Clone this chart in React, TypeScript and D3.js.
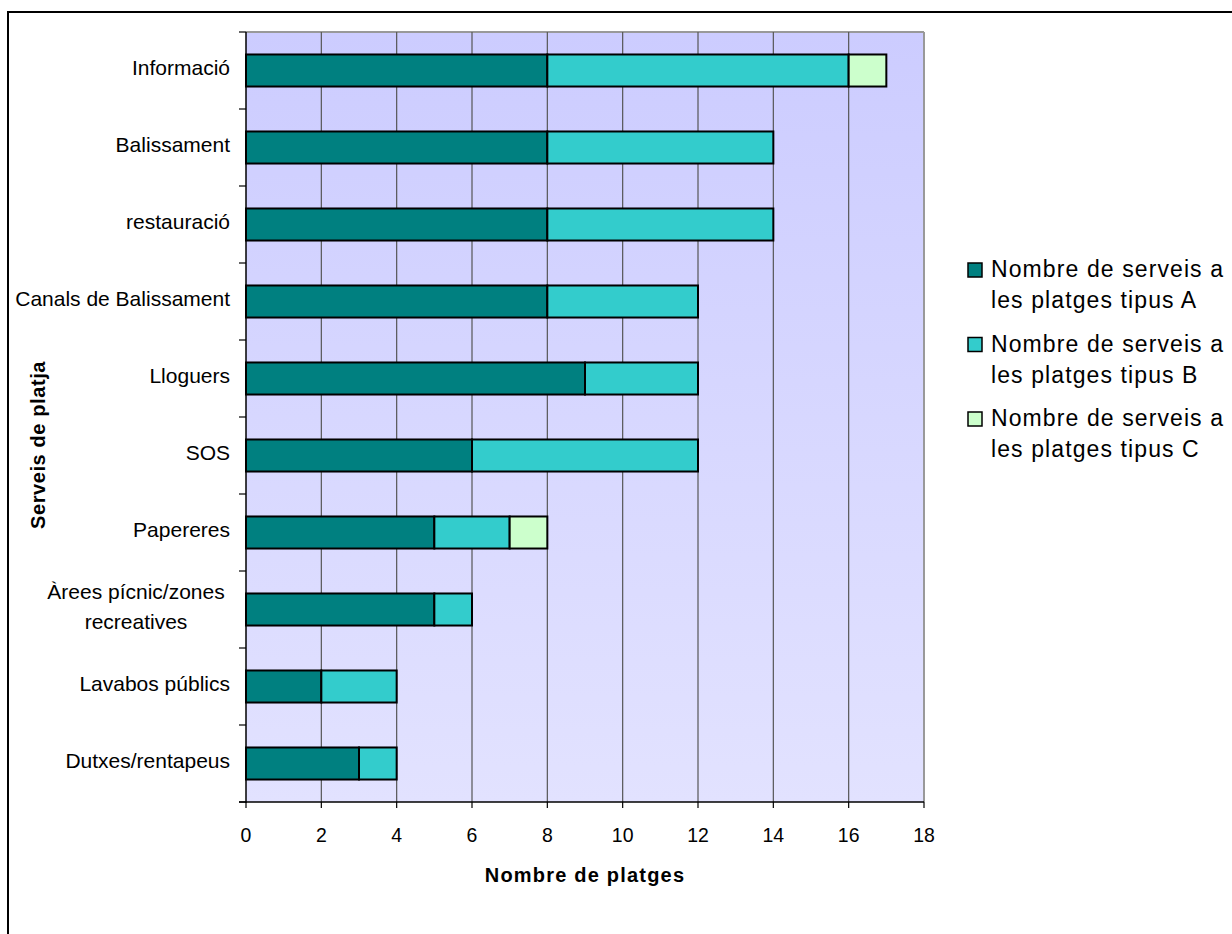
import React from "react";
import * as d3 from "d3";

const categories = [
  "Informació",
  "Balissament",
  "restauració",
  "Canals de Balissament",
  "Lloguers",
  "SOS",
  "Papereres",
  "Àrees pícnic/zones recreatives",
  "Lavabos públics",
  "Dutxes/rentapeus",
];
const categoryLines: string[][] = [
  ["Informació"],
  ["Balissament"],
  ["restauració"],
  ["Canals de Balissament"],
  ["Lloguers"],
  ["SOS"],
  ["Papereres"],
  ["Àrees pícnic/zones", "recreatives"],
  ["Lavabos públics"],
  ["Dutxes/rentapeus"],
];
const seriesA = [8, 8, 8, 8, 9, 6, 5, 5, 2, 3];
const seriesB = [8, 6, 6, 4, 3, 6, 2, 1, 2, 1];
const seriesC = [1, 0, 0, 0, 0, 0, 1, 0, 0, 0];
const seriesNames = [
  ["Nombre de serveis a", "les platges tipus A"],
  ["Nombre de serveis a", "les platges tipus B"],
  ["Nombre de serveis a", "les platges tipus C"],
];
const seriesColors = ["#008080", "#33CCCC", "#CCFFCC"];
const xTicks = [0, 2, 4, 6, 8, 10, 12, 14, 16, 18];
const xTitle = "Nombre de platges";
const yTitle = "Serveis de platja";

const W = 1232;
const H = 934;
const left = 246;
const right = 924;
const top = 32;
const bottom = 802;
const font = "'Liberation Sans', Arial, sans-serif";

export default function App() {
  const x = d3.scaleLinear().domain([0, 18]).range([left, right]);
  const y = d3
    .scaleBand<string>()
    .domain(categories)
    .range([top, bottom])
    .paddingInner(0.584)
    .paddingOuter(0.292);

  const stack = d3
    .stack<{ a: number; b: number; c: number }>()
    .keys(["a", "b", "c"]);
  const stacked = stack(
    categories.map((_, i) => ({ a: seriesA[i], b: seriesB[i], c: seriesC[i] }))
  );

  const step = y.step();
  const yTickPositions = d3.range(categories.length + 1).map((i) => top + i * step);

  return (
    <svg
      width={W}
      height={H}
      style={{ position: "absolute", left: 0, top: 0, background: "#fff" }}
    >
      <defs>
        <linearGradient id="bg" x1="0" y1="0" x2="0" y2="1">
          <stop offset="0" stopColor="#CCCCFF" />
          <stop offset="1" stopColor="#E2E2FF" />
        </linearGradient>
      </defs>
      {/* outer frame */}
      <rect x={8} y={12} width={W + 20} height={H + 20} fill="#fff" stroke="#000" strokeWidth={2} />
      {/* plot area */}
      <rect x={left} y={top} width={right - left} height={bottom - top} fill="url(#bg)" />
      <line x1={left} x2={right} y1={top} y2={top} stroke="#999" strokeWidth={2} />
      <line x1={right} x2={right} y1={top} y2={bottom} stroke="#999" strokeWidth={2} />
      {/* gridlines */}
      {xTicks.slice(1, -1).map((t) => (
        <line key={t} x1={x(t)} x2={x(t)} y1={top} y2={bottom} stroke="#555" strokeWidth={1.2} />
      ))}
      {/* bars */}
      {stacked.map((layer, si) =>
        layer.map((d, i) =>
          d[1] - d[0] > 0 ? (
            <rect
              key={si + "-" + i}
              x={x(d[0])}
              y={y(categories[i])!}
              width={x(d[1]) - x(d[0])}
              height={y.bandwidth()}
              fill={seriesColors[si]}
              stroke="#000"
              strokeWidth={2}
            />
          ) : null
        )
      )}
      {/* axes */}
      <line x1={left} x2={left} y1={top} y2={bottom + 1} stroke="#000" strokeWidth={1.5} />
      <line x1={left - 7} x2={right} y1={bottom} y2={bottom} stroke="#000" strokeWidth={1.5} />
      {yTickPositions.map((p, i) => (
        <line key={i} x1={left - 7} x2={left} y1={p} y2={p} stroke="#000" strokeWidth={1.2} />
      ))}
      {xTicks.map((t) => (
        <g key={t}>
          <line x1={x(t)} x2={x(t)} y1={bottom} y2={bottom + 6} stroke="#000" strokeWidth={1.2} />
          <text
            transform={`translate(${x(t)},${842}) scale(0.95,1)`}
            textAnchor="middle"
            fontFamily={font}
            fontSize={20.5}
            fill="#000"
          >
            {t}
          </text>
        </g>
      ))}
      {/* category labels */}
      {categories.map((c, i) => {
        const cy = y(c)! + y.bandwidth() / 2;
        const lines = categoryLines[i];
        if (lines.length === 1) {
          return (
            <text key={i} x={230} y={cy + 4} textAnchor="end" fontFamily={font} fontSize={21} fill="#000">
              {lines[0]}
            </text>
          );
        }
        return (
          <g key={i}>
            <text x={136} y={cy - 11} textAnchor="middle" fontFamily={font} fontSize={21} fill="#000">
              {lines[0]}
            </text>
            <text x={136} y={cy + 19} textAnchor="middle" fontFamily={font} fontSize={21} fill="#000">
              {lines[1]}
            </text>
          </g>
        );
      })}
      {/* axis titles */}
      <text
        x={(left + right) / 2}
        y={882}
        textAnchor="middle"
        fontFamily={font}
        fontSize={20}
        fontWeight="bold"
        letterSpacing={1.2}
      >
        {xTitle}
      </text>
      <text
        transform={`translate(45,445) rotate(-90)`}
        textAnchor="middle"
        fontFamily={font}
        fontSize={20}
        fontWeight="bold"
        letterSpacing={0.6}
      >
        {yTitle}
      </text>
      {/* legend */}
      {seriesNames.map((n, i) => {
        const sy = 263 + i * 74.5;
        return (
          <g key={i}>
            <rect x={968} y={sy} width={14} height={14} fill={seriesColors[i]} stroke="#000" strokeWidth={1.5} />
            <text x={991} y={sy + 14} fontFamily={font} fontSize={23} letterSpacing={1.1} fill="#000">
              {n[0]}
            </text>
            <text x={991} y={sy + 45} fontFamily={font} fontSize={23} letterSpacing={1.1} fill="#000">
              {n[1]}
            </text>
          </g>
        );
      })}
    </svg>
  );
}
